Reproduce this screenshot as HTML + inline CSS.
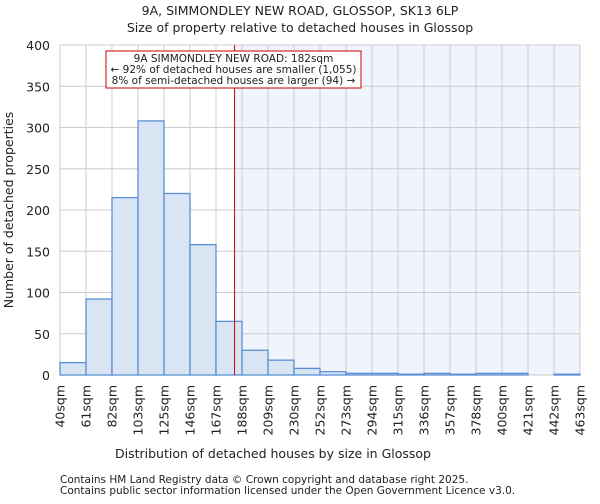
<!DOCTYPE html>
<html><head><meta charset="utf-8"><style>
body{margin:0;background:#fff;font-family:"DejaVu Sans","Liberation Sans",sans-serif;}
svg text{font-family:"DejaVu Sans","Liberation Sans",sans-serif;fill:#222;}
</style></head><body>
<svg id="chart" width="600" height="500">
<text x="300" y="15" text-anchor="middle" font-size="12.5">9A, SIMMONDLEY NEW ROAD, GLOSSOP, SK13 6LP</text>
<text x="300" y="32" text-anchor="middle" font-size="12.5">Size of property relative to detached houses in Glossop</text>
<g id="plot"></g>
<text x="273" y="458" text-anchor="middle" font-size="12.5">Distribution of detached houses by size in Glossop</text>
<text transform="translate(13,210) rotate(-90)" text-anchor="middle" font-size="12.5">Number of detached properties</text>
<text x="60" y="483" font-size="10.5">Contains HM Land Registry data © Crown copyright and database right 2025.</text>
<text x="60" y="494" font-size="10.5">Contains public sector information licensed under the Open Government Licence v3.0.</text>
</svg>
<script>
const categories=["40sqm","61sqm","82sqm","103sqm","125sqm","146sqm","167sqm","188sqm","209sqm","230sqm","252sqm","273sqm","294sqm","315sqm","336sqm","357sqm","378sqm","400sqm","421sqm","442sqm","463sqm"];
const counts=[15,92,215,308,220,158,65,30,18,8,4,2,2,1,2,1,2,2,0,1];
const yTicks=[0,50,100,150,200,250,300,350,400];
const binStart=40, binWidth=21.15;
const propertySize=182;
const NS="http://www.w3.org/2000/svg";
const X0=60,X1=580,Y0=375,Y1=45,YMAX=400;
const nb=counts.length,bw=(X1-X0)/nb;
const xs=v=>X0+(v-binStart)/binWidth*bw;
const xi=i=>X0+i*bw;
const ys=v=>Y0-(v/YMAX)*(Y0-Y1);
const g=document.getElementById('plot');
function mk(t,a){const e=document.createElementNS(NS,t);for(const k in a)e.setAttribute(k,a[k]);g.appendChild(e);return e;}
const mx=xs(propertySize);
let e=mk('rect',{x:mx,y:Y1,width:X1-mx,height:Y0-Y1,fill:'#f0f4fc'});


yTicks.forEach(t=>{
 let l=mk('line',{x1:X0,x2:X1,y1:ys(t),y2:ys(t),stroke:'#ccc','stroke-width':1});
 
 
 let tx=mk('text',{x:X0-10,y:ys(t)+5,'text-anchor':'end','font-size':'12.5'});tx.textContent=t;
 
 
});
categories.forEach((c,i)=>{
 let l=mk('line',{x1:xi(i),x2:xi(i),y1:Y1,y2:Y0,stroke:'#ccc','stroke-width':1});
 
 
 let tx=mk('text',{transform:`translate(${xi(i)+4.5},385) rotate(-90)`,'text-anchor':'end','font-size':'12.5'});tx.textContent=c;
 
 
});
counts.forEach((v,i)=>{
 if(v<=0)return;
 let r=mk('rect',{x:xi(i),y:ys(v),width:bw,height:Y0-ys(v),fill:'#dae5f4',stroke:'#5a8fd6','stroke-width':1.3});
 
 
});
let ml=mk('line',{x1:mx,x2:mx,y1:Y1,y2:Y0,stroke:'#c00','stroke-width':1});


let box=mk('rect',{x:106,y:51,width:255,height:37,fill:'#fff',stroke:'#c00','stroke-width':1});


["9A SIMMONDLEY NEW ROAD: 182sqm","← 92% of detached houses are smaller (1,055)","8% of semi-detached houses are larger (94) →"].forEach((s,k)=>{
 let t=mk('text',{x:233.5,y:62+k*11,'text-anchor':'middle','font-size':'10.5'});t.textContent=s;
 
 
});
</script>
</body></html>
